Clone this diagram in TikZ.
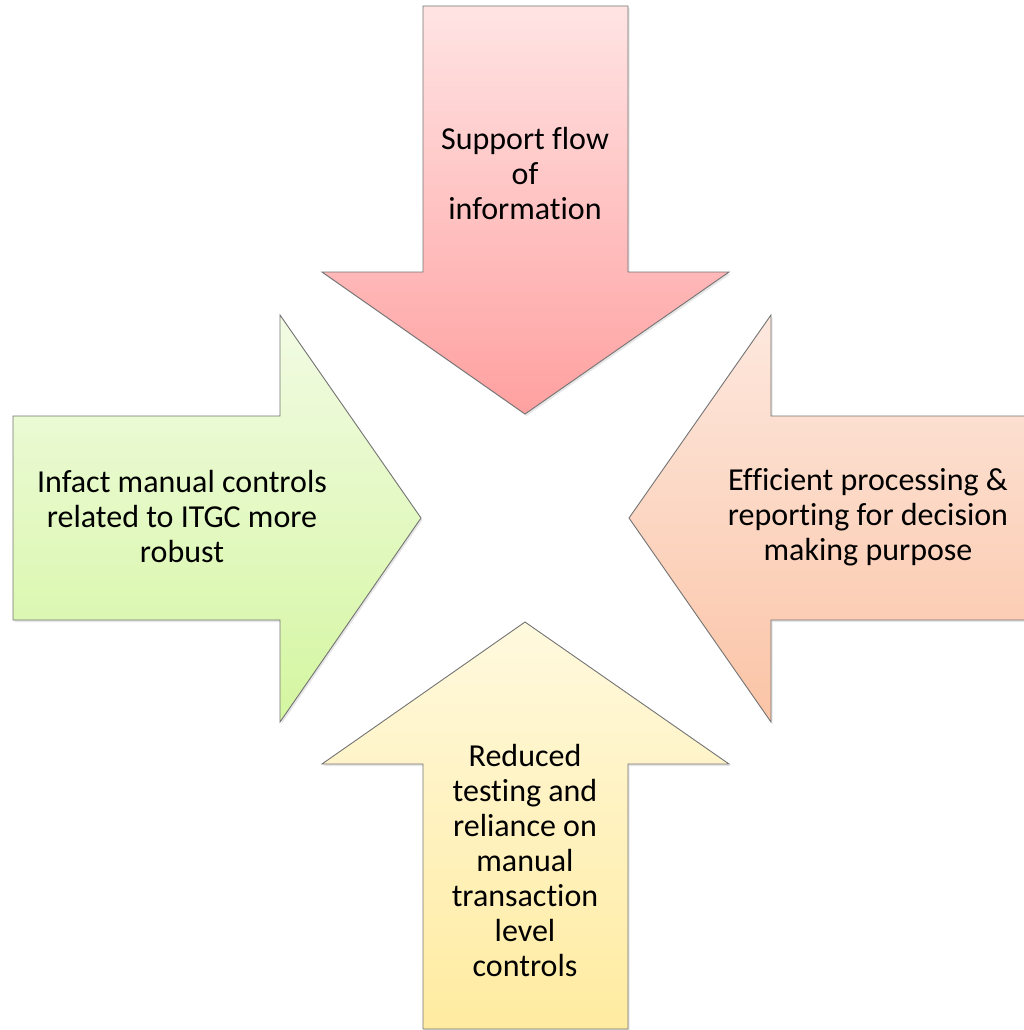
\documentclass[tikz,border=0pt]{standalone}
\usepackage{fontspec}
\setmainfont[Ligatures=NoCommon]{Carlito}
\usetikzlibrary{shadows}

\definecolor{pinkA}{RGB}{255,228,228}
\definecolor{pinkB}{RGB}{255,160,160}
\definecolor{greenA}{RGB}{242,251,228}
\definecolor{greenB}{RGB}{212,246,160}
\definecolor{peachA}{RGB}{253,232,222}
\definecolor{peachB}{RGB}{251,196,166}
\definecolor{yellowA}{RGB}{255,249,222}
\definecolor{yellowB}{RGB}{255,235,160}

\tikzset{
  bigarrow/.style={draw=black!55, line width=0.9pt, line join=miter,
    drop shadow={shadow xshift=1.5pt, shadow yshift=-2pt, opacity=0.2}},
  arrowtext/.style={align=center, font=\fontsize{32}{35}\selectfont, text=black}
}

\begin{document}
\begin{tikzpicture}[x=1pt, y=-1pt]
  \useasboundingbox (0,0) rectangle (1024,1030);
  % down arrow
  \path[bigarrow, top color=pinkA, bottom color=pinkB]
    (423,6) -- (628,6) -- (628,272) -- (729,272) -- (525,414)
    -- (322,272) -- (423,272) -- cycle;
  \node[arrowtext] (toptext) at (525,174) {Support flow\\of\\information};
  % right arrow
  \path[bigarrow, top color=greenA, bottom color=greenB]
    (13,416) -- (280,416) -- (280,315) -- (421,518) -- (280,722)
    -- (280,620) -- (13,620) -- cycle;
  \node[arrowtext] (lefttext) at (182,517)
    {Infact manual controls\\related to ITGC more\\robust};
  % left arrow
  \path[bigarrow, top color=peachA, bottom color=peachB]
    (1030,416) -- (771,416) -- (771,315) -- (629,518) -- (771,722)
    -- (771,620) -- (1030,620) -- cycle;
  \node[arrowtext] (righttext) at (868,517)
    {Efficient processing \&\\reporting for decision\\making purpose};
  % up arrow
  \path[bigarrow, top color=yellowA, bottom color=yellowB]
    (423,1029) -- (628,1029) -- (628,764) -- (729,764) -- (525,622)
    -- (322,764) -- (423,764) -- cycle;
  \node[arrowtext] (bottomtext) at (525,860)
    {Reduced\\testing and\\reliance on\\manual\\transaction\\level\\controls};
\end{tikzpicture}
\end{document}
